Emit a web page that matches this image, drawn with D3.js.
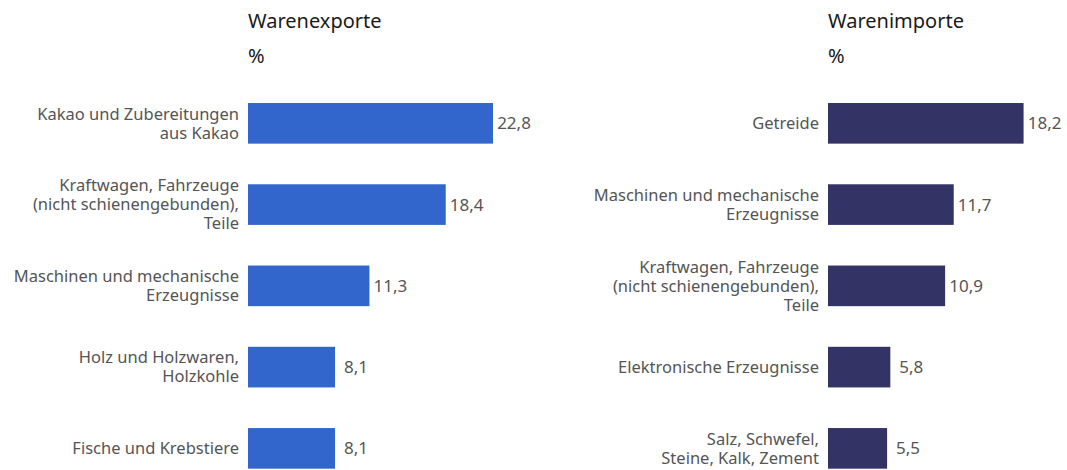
<!doctype html>
<html lang="de">
<head>
    <meta charset="UTF-8">
    <title>Warenexporte und Warenimporte</title>
    <style>
        body { margin: 0; background: #fff; }
        svg text { font-family: "Noto Sans", "Open Sans", sans-serif; }
    </style>
</head>
<body>
    <svg id="chart" width="1067" height="470"></svg>
    <script src="https://d3js.org/d3.v7.min.js"></script>
    <script>
        // categories ("\n" = line break in the label)
        let exportCategories = [
            "Kakao und Zubereitungen\naus Kakao",
            "Kraftwagen, Fahrzeuge\n(nicht schienengebunden),\nTeile",
            "Maschinen und mechanische\nErzeugnisse",
            "Holz und Holzwaren,\nHolzkohle",
            "Fische und Krebstiere"
        ];
        let exportValues = [22.8, 18.4, 11.3, 8.1, 8.1];

        let importCategories = [
            "Getreide",
            "Maschinen und mechanische\nErzeugnisse",
            "Kraftwagen, Fahrzeuge\n(nicht schienengebunden),\nTeile",
            "Elektronische Erzeugnisse",
            "Salz, Schwefel,\nSteine, Kalk, Zement"
        ];
        let importValues = [18.2, 11.7, 10.9, 5.8, 5.5];

        let titles = ["Warenexporte", "Warenimporte"];
        let unitLabel = "%";

        let svg = d3.select("#chart");
        let fmt = v => d3.format(".1f")(v).replace(".", ",");

        // one panel
        function drawPanel(left, title, cats, vals, color) {
            let g = svg.append("g").attr("transform", `translate(${left},0)`);

            let x = d3.scaleLinear().domain([0, 22.8]).range([0, 245]);
            let y = d3.scaleBand()
                .domain(d3.range(cats.length))
                .range([82.7, 489])
                .paddingInner(0.5)
                .paddingOuter(0.25);

            g.append("text")
                .attr("x", 0).attr("y", 28)
                .attr("font-size", "20px")
                .attr("fill", "#1a1a1a")
                .text(title);

            g.append("text")
                .attr("x", 0).attr("y", 63)
                .attr("font-size", "20px")
                .attr("fill", "#1a1a1a")
                .text(unitLabel);

            let rows = g.selectAll(".row")
                .data(vals)
                .enter().append("g")
                .attr("class", "row");

            rows.append("rect")
                .attr("x", x(0))
                .attr("y", (d, i) => y(i))
                .attr("width", d => x(d) - x(0))
                .attr("height", y.bandwidth())
                .attr("fill", color);

            rows.append("text")
                .attr("x", d => x(d) + 21)
                .attr("y", (d, i) => y(i) + y.bandwidth() / 2)
                .attr("dy", "0.35em")
                .attr("text-anchor", "middle")
                .attr("font-size", "17px")
                .attr("fill", "#555")
                .text(d => fmt(d));

            // category labels, multi-line
            rows.append("text")
                .attr("text-anchor", "end")
                .attr("font-size", "16.5px")
                .attr("fill", "#555")
                .each(function(d, i) {
                    let lines = cats[i].split("\n");
                    let cy = y(i) + y.bandwidth() / 2;
                    let lh = 19;
                    let t = d3.select(this);
                    lines.forEach((line, k) => {
                        t.append("tspan")
                            .attr("x", -9)
                            .attr("y", cy + (k - (lines.length - 1) / 2) * lh)
                            .attr("dy", "0.35em")
                            .text(line);
                    });
                });
        }

        drawPanel(248, titles[0], exportCategories, exportValues, "#3366cc");
        drawPanel(828, titles[1], importCategories, importValues, "#333366");
    </script>
</body>
</html>
